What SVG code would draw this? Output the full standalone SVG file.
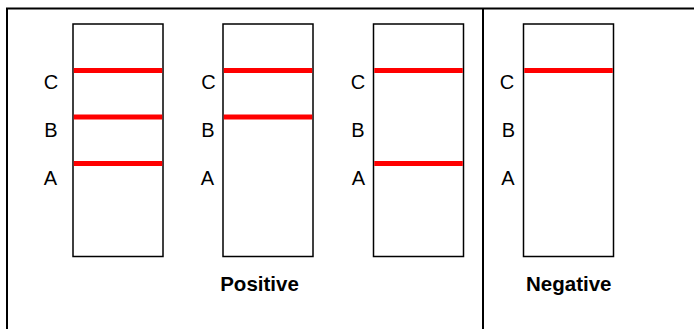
<svg xmlns="http://www.w3.org/2000/svg" width="694" height="329" viewBox="0 0 694 329">
<style>
.frame{fill:none;stroke:#000;stroke-width:2}
.strip{fill:#fff;stroke:#000;stroke-width:1.5}
.band{stroke:#ff0000;stroke-width:5}
.lbl{font-family:"Liberation Sans",Arial,sans-serif;font-size:20px;fill:#000;text-anchor:middle}
.cap{font-family:"Liberation Sans",Arial,sans-serif;font-size:20.5px;font-weight:bold;fill:#000;text-anchor:middle}
</style>
<rect width="694" height="329" fill="#fff"/>
<g id="frame">
<path class="frame" d="M7,340 V8.5 H700"/>
<line class="frame" x1="483" y1="8" x2="483" y2="329"/>
</g>
<g id="strip1">
<rect class="strip" x="73" y="24" width="90" height="232.5"/>
<line class="band" x1="73.75" y1="70.5" x2="162.25" y2="70.5"/>
<line class="band" x1="73.75" y1="117" x2="162.25" y2="117"/>
<line class="band" x1="73.75" y1="163.5" x2="162.25" y2="163.5"/>
<text class="lbl" x="51" y="89">C</text>
<text class="lbl" x="51" y="137">B</text>
<text class="lbl" x="50.5" y="184.5">A</text>
</g>
<g id="strip2">
<rect class="strip" x="223" y="24" width="90" height="232.5"/>
<line class="band" x1="223.75" y1="70.5" x2="312.25" y2="70.5"/>
<line class="band" x1="223.75" y1="117" x2="312.25" y2="117"/>
<text class="lbl" x="208.5" y="89">C</text>
<text class="lbl" x="208" y="137">B</text>
<text class="lbl" x="207.5" y="184.5">A</text>
</g>
<g id="strip3">
<rect class="strip" x="373.5" y="24" width="90" height="232.5"/>
<line class="band" x1="374.25" y1="70.5" x2="462.75" y2="70.5"/>
<line class="band" x1="374.25" y1="163.5" x2="462.75" y2="163.5"/>
<text class="lbl" x="358" y="89">C</text>
<text class="lbl" x="358" y="137">B</text>
<text class="lbl" x="358.5" y="184.5">A</text>
</g>
<g id="strip4">
<rect class="strip" x="523.5" y="24" width="90" height="232.5"/>
<line class="band" x1="524.25" y1="70.5" x2="612.75" y2="70.5"/>
<text class="lbl" x="507" y="89">C</text>
<text class="lbl" x="508.5" y="137">B</text>
<text class="lbl" x="508" y="184.5">A</text>
</g>
<g id="captions">
<text class="cap" x="259.5" y="290.5">Positive</text>
<text class="cap" x="568.8" y="290.5">Negative</text>
</g>
</svg>
